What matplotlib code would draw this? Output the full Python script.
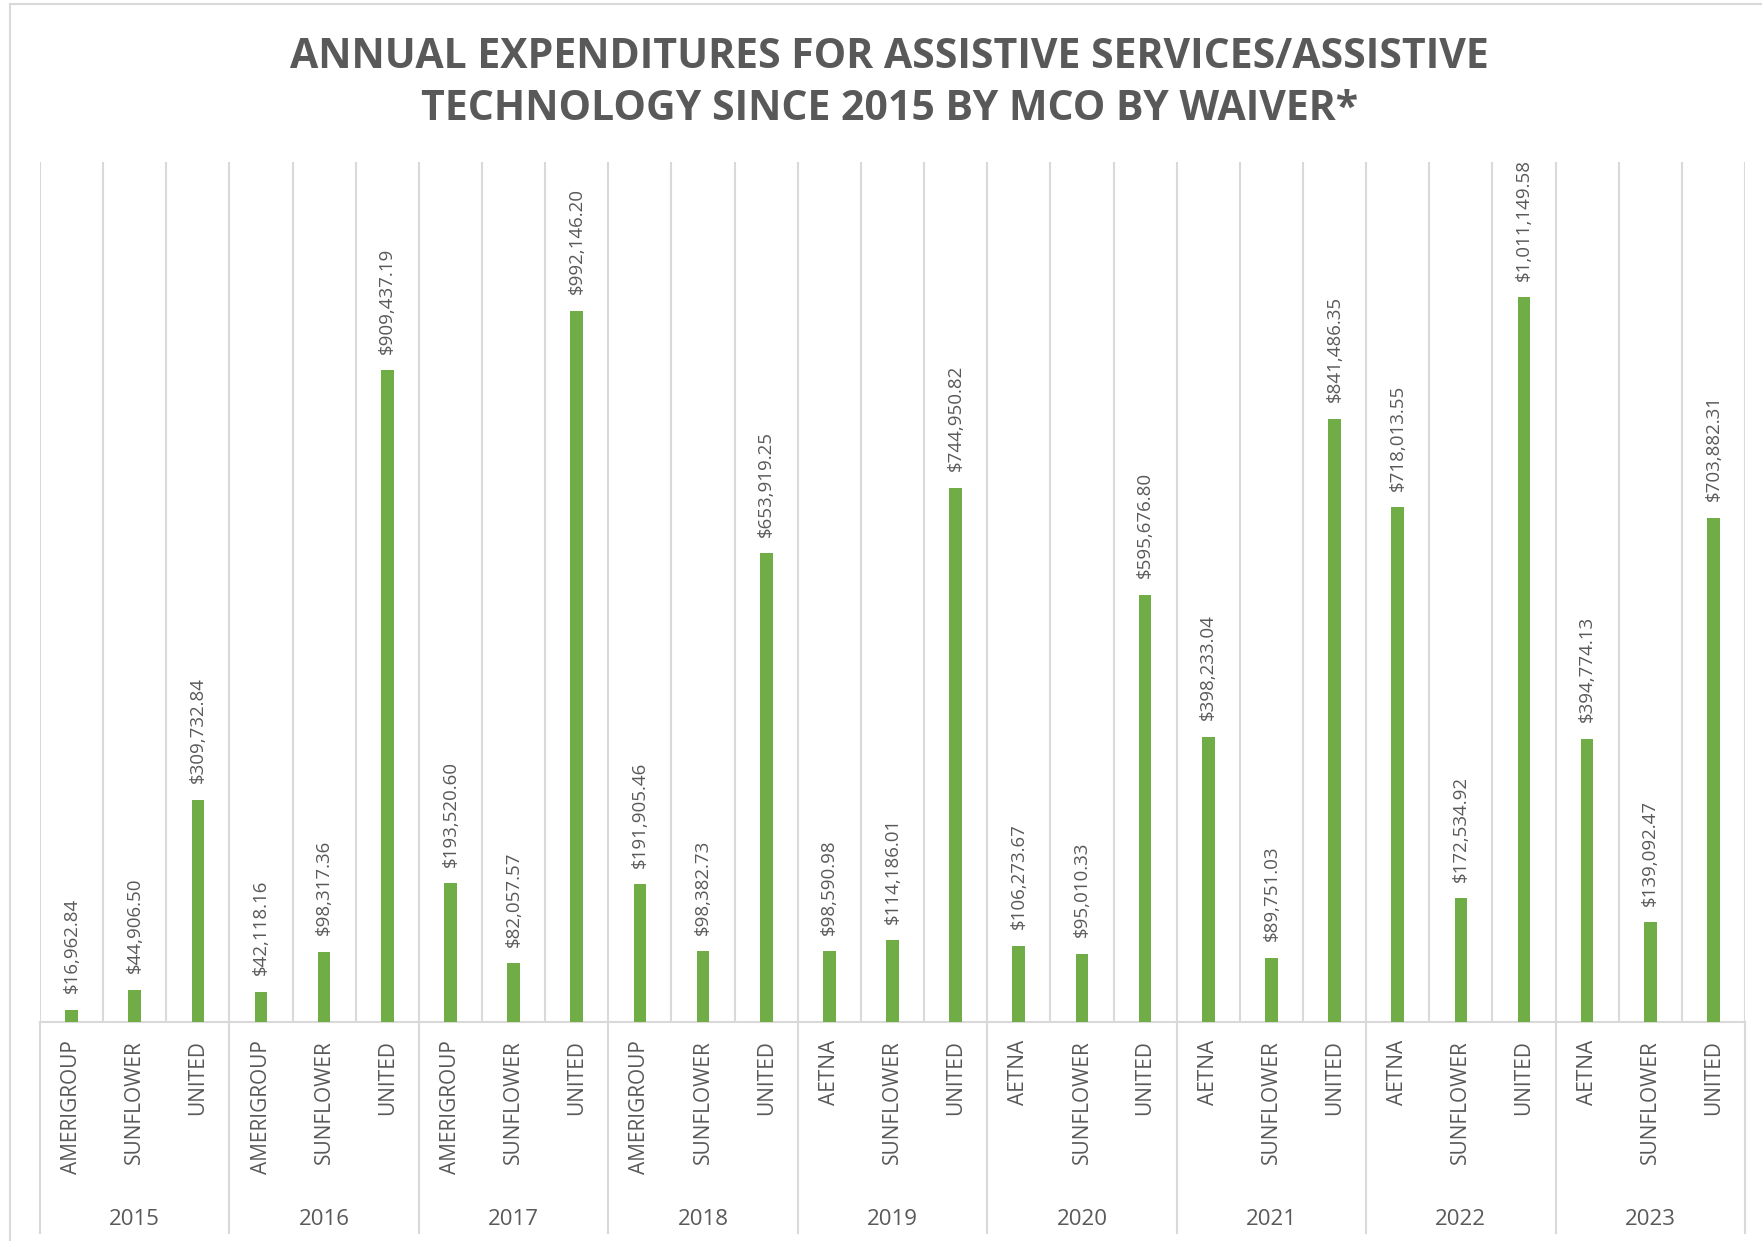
import numpy as np
import matplotlib
matplotlib.use("Agg")
import matplotlib.pyplot as plt
import matplotlib.transforms as mtransforms

# data
years = ["2015", "2016", "2017", "2018", "2019", "2020", "2021", "2022", "2023"]
mcos = [
    ["AMERIGROUP", "SUNFLOWER", "UNITED"],
    ["AMERIGROUP", "SUNFLOWER", "UNITED"],
    ["AMERIGROUP", "SUNFLOWER", "UNITED"],
    ["AMERIGROUP", "SUNFLOWER", "UNITED"],
    ["AETNA", "SUNFLOWER", "UNITED"],
    ["AETNA", "SUNFLOWER", "UNITED"],
    ["AETNA", "SUNFLOWER", "UNITED"],
    ["AETNA", "SUNFLOWER", "UNITED"],
    ["AETNA", "SUNFLOWER", "UNITED"],
]
spend = [
    [16962.84, 44906.50, 309732.84],
    [42118.16, 98317.36, 909437.19],
    [193520.60, 82057.57, 992146.20],
    [191905.46, 98382.73, 653919.25],
    [98590.98, 114186.01, 744950.82],
    [106273.67, 95010.33, 595676.80],
    [398233.04, 89751.03, 841486.35],
    [718013.55, 172534.92, 1011149.58],
    [394774.13, 139092.47, 703882.31],
]

labels = [m for grp in mcos for m in grp]
values = [v for grp in spend for v in grp]
x = np.arange(len(values))

grey = "#595959"
grid_col = "#D9D9D9"
plt.rcParams["font.family"] = ["Open Sans", "DejaVu Sans"]

fig = plt.figure(figsize=(17.62, 12.41), dpi=100)
ax = fig.add_axes([40 / 1762, 1 - 1022 / 1241, 1705 / 1762, 860 / 1241])

ax.bar(x, values, width=0.2, color="#70AD47", zorder=3)
for xi, v in zip(x, values):
    ax.annotate(f"${v:,.2f}", (xi, v), xytext=(0, 12), textcoords="offset points",
                rotation=90, ha="center", va="bottom", fontsize=13.5, color=grey)

ax.set_xlim(-0.5, len(values) - 0.5)
ax.set_ylim(0, 1.2e6)
ax.set_yticks([])
ax.set_xticks(x)
ax.set_xticklabels(labels, rotation=90, fontsize=15, color=grey)
ax.tick_params(axis="x", length=0, pad=13)
ax.set_xticks(np.arange(-0.5, len(values), 1), minor=True)
ax.tick_params(axis="x", which="minor", length=0)
ax.grid(which="minor", axis="x", color=grid_col, linewidth=1.5)
for s in ["top", "right", "left"]:
    ax.spines[s].set_visible(False)
ax.spines["bottom"].set_color(grid_col)
ax.spines["bottom"].set_linewidth(1.5)

# year group labels and separators below the axis
trans = mtransforms.blended_transform_factory(ax.transData, ax.transAxes)
for i, yr in enumerate(years):
    ax.text(i * 3 + 1, -0.230, yr, transform=trans, ha="center", va="center",
            fontsize=16, color=grey)
for b in range(len(years) + 1):
    ax.plot([b * 3 - 0.5] * 2, [0, -0.245], transform=trans, color=grid_col,
            linewidth=1.5, clip_on=False)

fig.text(0.505, 1 - 57 / 1241, "ANNUAL EXPENDITURES FOR ASSISTIVE SERVICES/ASSISTIVE",
         ha="center", va="center", fontsize=29.5, fontweight="bold", color=grey)
fig.text(0.505, 1 - 110 / 1241, "TECHNOLOGY SINCE 2015 BY MCO BY WAIVER*",
         ha="center", va="center", fontsize=29.5, fontweight="bold", color=grey)

# chart frame
fig.add_artist(plt.Line2D([10 / 1762, 10 / 1762], [0, 1 - 4 / 1241], transform=fig.transFigure,
                          color=grid_col, linewidth=1.5))
fig.add_artist(plt.Line2D([10 / 1762, 1], [1 - 4 / 1241, 1 - 4 / 1241], transform=fig.transFigure,
                          color=grid_col, linewidth=1.5))

fig.savefig("out.png", dpi=100)
